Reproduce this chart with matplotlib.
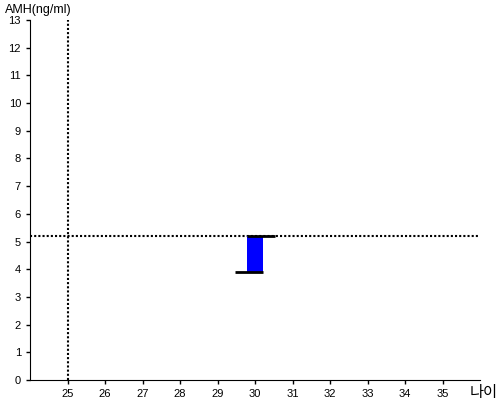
import matplotlib
matplotlib.use('Agg')
import matplotlib.pyplot as plt
import numpy as np

# data
ages = [30]
amh_low = [3.9]
amh_high = [5.2]
ref_age = 25
ref_amh = 5.2
xticks = list(range(25, 36))
yticks = list(range(0, 14))

plt.rcParams['font.family'] = ['Liberation Sans', 'Noto Sans CJK KR', 'DejaVu Sans']

fig = plt.figure(figsize=(5, 4), dpi=100)
ax = fig.add_axes([0.06, 0.05, 0.90, 0.90])

bar_w = 0.42
tick_w = 0.32
for a, lo, hi in zip(ages, amh_low, amh_high):
    ax.bar(a, hi - lo, bottom=lo, width=bar_w, color='#0000ff', zorder=2)
    left = a - bar_w / 2
    right = a + bar_w / 2
    ax.plot([left - tick_w, right], [lo, lo], color='black', lw=2, zorder=3,
            solid_capstyle='butt')
    ax.plot([left, right + tick_w], [hi, hi], color='black', lw=2, zorder=3,
            solid_capstyle='butt')

ax.axhline(ref_amh, color='black', lw=1.5, linestyle=(0, (1, 1)), zorder=1)
ax.axvline(ref_age, color='black', lw=1.5, linestyle=(0, (1, 1)), zorder=1)

ax.set_xlim(24, 36)
ax.set_ylim(0, 13)
ax.set_xticks(xticks)
ax.set_yticks(yticks)
ax.tick_params(labelsize=8, length=3, width=1, colors='black')
ax.spines['top'].set_visible(False)
ax.spines['right'].set_visible(False)

fig.text(0.01, 0.975, 'AMH(ng/ml)', fontsize=9, va='center', ha='left')
fig.text(0.995, 0.02, '나이', fontsize=11, va='center', ha='right',
         family=['Noto Sans CJK KR', 'DejaVu Sans'])

plt.savefig('out.png', dpi=100)
